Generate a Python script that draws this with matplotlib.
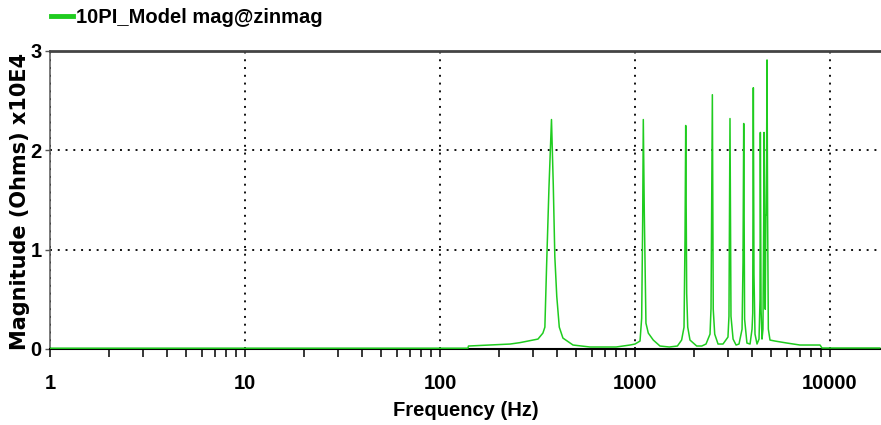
import matplotlib
matplotlib.use("Agg")
import matplotlib.pyplot as plt
from matplotlib.ticker import NullFormatter

# impedance magnitude, x10E4 ohms
freq_hz = [
    1, 100, 139, 140, 229, 257, 318, 337, 345, 352, 362, 373, 381, 388, 397,
    409, 427, 481, 588, 800, 942, 1000,
    1061, 1082, 1095, 1103, 1116, 1138, 1170, 1241, 1343, 1500, 1650,
    1734, 1784, 1805, 1820, 1841, 1864, 1914, 2072, 2200,
    2313, 2425, 2454, 2493, 2519, 2563, 2666,
    2827, 2997, 3033, 3070, 3106, 3184, 3298,
    3415, 3540, 3580, 3610, 3648, 3750,
    3890, 3983, 4015, 4044, 4075, 4125, 4224,
    4325, 4377, 4393, 4430, 4480,
    4531, 4571, 4589, 4626, 4655, 4690, 4715, 4754, 4786, 4828,
    4923, 5222, 6012, 7015, 8890, 9100, 18000,
]
mag_e4 = [
    0.008, 0.008, 0.008, 0.03, 0.05, 0.064, 0.10, 0.16, 0.22, 0.83, 1.62, 2.31, 1.65, 0.93, 0.53,
    0.22, 0.11, 0.04, 0.02, 0.02, 0.04, 0.05,
    0.08, 0.31, 1.3, 2.31, 1.37, 0.26, 0.16, 0.09, 0.03, 0.02, 0.03,
    0.09, 0.22, 1.1, 2.25, 0.56, 0.22, 0.09, 0.03, 0.03,
    0.05, 0.15, 0.41, 2.56, 0.4, 0.15, 0.05,
    0.05, 0.12, 0.33, 2.32, 0.33, 0.1, 0.04,
    0.05, 0.2, 0.87, 2.27, 0.3, 0.06,
    0.05, 0.2, 0.36, 2.63, 0.75, 0.15, 0.05,
    0.1, 0.5, 2.18, 0.4, 0.1,
    0.2, 1.3, 2.18, 1.35, 0.4, 1.35, 1.35, 2.91, 1.35, 0.2,
    0.09, 0.08, 0.06, 0.04, 0.04, 0.01, 0.01,
]
y_ticks = [0, 1, 2, 3]
x_ticks = [1, 10, 100, 1000, 10000]
x_ticklabels = ["1", "10", "100", "1000", "10000"]

FONT = "Liberation Sans"
FS = 14.5
GREEN = "#1fcc1f"
W, H = 881, 425

fig = plt.figure(figsize=(W / 100, H / 100), dpi=100)
ax = fig.add_axes([50 / W, (H - 349) / H, (W - 50) / W, 298 / H])

ax.plot(freq_hz, mag_e4, color=GREEN, linewidth=1.1, zorder=3,
        label="10PI_Model mag@zinmag")

ax.set_xscale("log")
ax.set_xlim(1, 10 ** ((W - 50) / 195))
ax.set_ylim(0, 3)

ax.set_xticks(x_ticks)
ax.set_xticklabels(x_ticklabels)
ax.set_yticks(y_ticks)
ax.xaxis.set_minor_formatter(NullFormatter())

for lab in ax.get_xticklabels() + ax.get_yticklabels():
    lab.set_fontfamily(FONT)
    lab.set_fontweight("bold")
    lab.set_fontsize(FS)

ax.tick_params(axis="x", which="both", direction="out", length=6, width=1.1,
               color="black", pad=12)
ax.tick_params(axis="y", direction="out", length=3.6, width=1.0, color="#555555", pad=2.5)

ax.grid(True, which="major", color="#111111", linestyle=(0, (1, 3)), linewidth=1.4)
ax.set_axisbelow(True)

ax.spines["right"].set_visible(False)
ax.spines["top"].set_color("#444444")
ax.spines["top"].set_linewidth(2.0)
ax.spines["left"].set_color("#555555")
ax.spines["left"].set_linewidth(1.1)
ax.spines["bottom"].set_color("black")
ax.spines["bottom"].set_linewidth(1.5)

ax.set_xlabel("Frequency (Hz)", fontfamily=FONT, fontweight="bold", fontsize=FS, labelpad=6)
ax.set_ylabel("Magnitude (Ohms) x10E4", fontfamily="DejaVu Sans", fontweight="bold", fontsize=15)
ax.yaxis.set_label_coords(-0.024, 0.495)

leg = fig.legend(loc="upper left", bbox_to_anchor=(47 / W, 1 - 4 / H), frameon=False,
                 handlelength=1.1, handletextpad=0.15, borderaxespad=0, borderpad=0.2,
                 prop={"family": FONT, "weight": "bold", "size": FS})
for h in leg.get_lines():
    h.set_linewidth(3.5)

fig.savefig("out.png", dpi=100)
plt.close(fig)
